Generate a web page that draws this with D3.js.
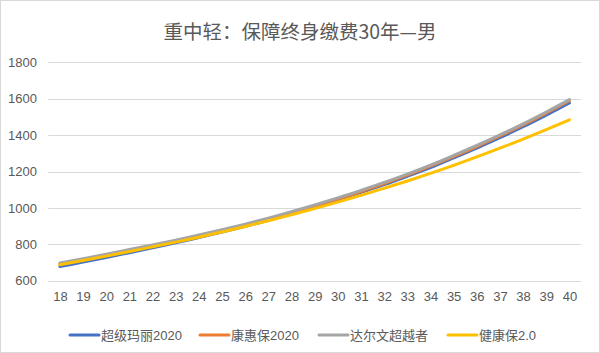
<!DOCTYPE html>
<html>
<head>
<meta charset="utf-8">
<script src="https://cdn.jsdelivr.net/npm/d3@7"></script>
<style>
  html, body { margin: 0; padding: 0; background: #fff; }
  svg { display: block; font-family: "Liberation Sans", "Noto Sans CJK SC", sans-serif; }
</style>
</head>
<body>
<svg id="chart" width="600" height="353"></svg>
<script>
const title = "重中轻：保障终身缴费30年—男";
const ages = ["18","19","20","21","22","23","24","25","26","27","28","29","30","31","32","33","34","35","36","37","38","39","40"];
const yTicks = [600, 800, 1000, 1200, 1400, 1600, 1800];
const seriesNames = ["超级玛丽2020", "康惠保2020", "达尔文超越者", "健康保2.0"];
const seriesColors = ["#4472C4", "#ED7D31", "#A5A5A5", "#FFC000"];
const superMario = [678,702,727,754,781,808,837,867,899,932,968,1005,1044,1085,1128,1174,1222,1275,1329,1386,1446,1510,1577];
const kangHuiBao = [692,715,739,765,791,817,845,874,905,938,973,1010,1049,1090,1134,1180,1229,1282,1337,1395,1456,1521,1589];
const darwin = [698,721,745,771,797,823,851,880,911,944,979,1016,1055,1096,1140,1186,1235,1288,1343,1401,1462,1527,1595];
const jianKangBao = [688,711,735,760,786,812,839,868,898,929,962,996,1032,1069,1108,1148,1190,1234,1280,1328,1378,1430,1484];
const seriesValues = [superMario, kangHuiBao, darwin, jianKangBao];

const svg = d3.select("#chart");
const W = 600, H = 353;
const plot = { left: 48.3, right: 581, top: 62.3, bottom: 280.7 };

// outer border
svg.append("rect").attr("x", 0.5).attr("y", 0.5).attr("width", W - 1).attr("height", H - 1)
  .attr("fill", "#fff").attr("stroke", "#D9D9D9").attr("stroke-width", 1);

// title
svg.append("text").attr("x", 300).attr("y", 39).attr("text-anchor", "middle")
  .attr("font-size", 19.5).attr("fill", "#595959")
  .attr("font-family", "'Noto Sans CJK SC', sans-serif")
  .text(title);

const x = d3.scalePoint().domain(ages).range([plot.left, plot.right]).padding(0.5);
const y = d3.scaleLinear().domain([600, 1800]).range([plot.bottom, plot.top]);

// gridlines
svg.append("g").selectAll("line").data(yTicks).join("line")
  .attr("x1", plot.left).attr("x2", plot.right)
  .attr("y1", d => Math.round(y(d)) + 0.5).attr("y2", d => Math.round(y(d)) + 0.5)
  .attr("stroke", "#D9D9D9").attr("stroke-width", 1);

// y axis labels
const yAxis = d3.axisLeft(y).tickValues(yTicks).tickFormat(d3.format("d")).tickSize(0).tickPadding(0);
svg.append("g").attr("transform", "translate(37,0)").call(yAxis)
  .call(g => g.select(".domain").remove())
  .call(g => g.selectAll("text").attr("font-size", 13).attr("fill", "#595959")
    .attr("font-family", "'Liberation Sans', sans-serif"));

// x axis labels
const xAxis = d3.axisBottom(x).tickSize(0).tickPadding(0);
svg.append("g").attr("transform", "translate(0,292)").call(xAxis)
  .call(g => g.select(".domain").remove())
  .call(g => g.selectAll("text").attr("font-size", 13).attr("fill", "#595959")
    .attr("font-family", "'Liberation Sans', sans-serif"));

// lines
const line = d3.line().x((d, i) => x(ages[i])).y(d => y(d)).curve(d3.curveCatmullRom.alpha(0.5));
seriesValues.forEach((vals, k) => {
  svg.append("path").datum(vals).attr("d", line)
    .attr("fill", "none").attr("stroke", seriesColors[k]).attr("stroke-width", 3)
    .attr("stroke-linejoin", "round").attr("stroke-linecap", "round");
});

// legend
const legendX = [70, 200, 319, 448];
const legendY = 335;
const lg = svg.append("g");
seriesNames.forEach((name, k) => {
  lg.append("line").attr("x1", legendX[k]).attr("x2", legendX[k] + 29)
    .attr("y1", legendY).attr("y2", legendY)
    .attr("stroke", seriesColors[k]).attr("stroke-width", 3).attr("stroke-linecap", "round");
  lg.append("text").attr("x", legendX[k] + 31).attr("y", legendY).attr("dy", "0.35em")
    .attr("font-size", 13).attr("fill", "#595959").text(name);
});
</script>
</body>
</html>
